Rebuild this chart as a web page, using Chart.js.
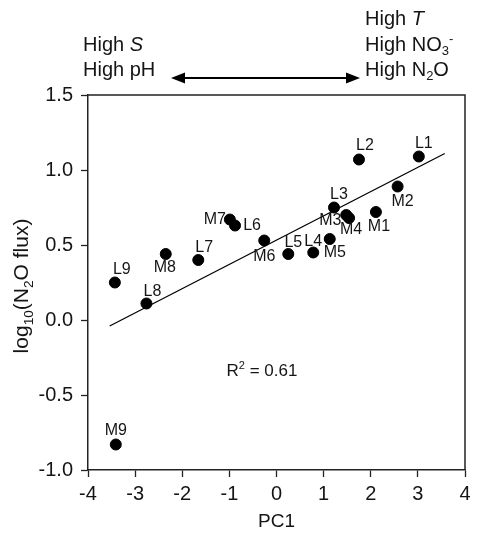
<!DOCTYPE html>
<html>
<head>
<meta charset="utf-8">
<script src="https://cdn.jsdelivr.net/npm/chart.js@4.4.1/dist/chart.umd.min.js"></script>
<style>
  html, body { margin: 0; padding: 0; background: #fff; }
  #wrap { width: 479px; height: 538px; }
</style>
</head>
<body>
<div id="wrap"><canvas id="pcaChart" width="479" height="538"></canvas></div>
<script>
// PC1 vs log10(N2O flux), sites L1-L9 and M1-M9

const siteLabels = ['L1', 'L2', 'L3', 'L4', 'L5', 'L6', 'L7', 'L8', 'L9',
  'M1', 'M2', 'M3', 'M4', 'M5', 'M6', 'M7', 'M8', 'M9'];
const pc1 = [3.02, 1.75, 1.22, 0.78, 0.25, -0.88, -1.66, -2.76, -3.43,
  2.11, 2.57, 1.48, 1.54, 1.13, -0.26, -0.99, -2.35, -3.41];
const logFlux = [1.09, 1.07, 0.75, 0.45, 0.44, 0.63, 0.40, 0.11, 0.25,
  0.72, 0.89, 0.70, 0.68, 0.54, 0.53, 0.67, 0.44, -0.83];

const fitX = [-3.54, 3.57];
const fitY = [-0.04, 1.11];
const rSquared = '0.61';

const xTicks = [-4, -3, -2, -1, 0, 1, 2, 3, 4];
const yTicks = [-1.0, -0.5, 0.0, 0.5, 1.0, 1.5];

const FONT = "'Liberation Sans', Arial, Helvetica, sans-serif";

// where each site label sits relative to its dot (px, centre of text)
const labelOffsets = {
  L1: [5, -13], L2: [6, -14], L3: [5, -13], L4: [0, -11], L5: [5, -11],
  L6: [17, 0], L7: [6, -12], L8: [6, -12], L9: [7, -13],
  M1: [3, 15], M2: [5, 15], M3: [-16, 6], M4: [2, 12], M5: [5, 14],
  M6: [0, 16], M7: [-15, 0], M8: [-1, 14], M9: [0, -14]
};

// text with sub/superscripts and italics
function drawRich(ctx, parts, x, y, size, align) {
  const fontFor = p => {
    const s = p.sub || p.sup ? size * 0.65 : size;
    return (p.italic ? 'italic ' : '') + s + 'px ' + FONT;
  };
  let total = 0;
  parts.forEach(p => { ctx.font = fontFor(p); total += ctx.measureText(p.t).width; });
  let cx = align === 'center' ? x - total / 2 : x;
  ctx.textAlign = 'left';
  ctx.textBaseline = 'alphabetic';
  parts.forEach(p => {
    ctx.font = fontFor(p);
    let dy = 0;
    if (p.sub) dy = size * 0.22;
    if (p.sup) dy = -size * 0.4;
    ctx.fillText(p.t, cx, y + dy);
    cx += ctx.measureText(p.t).width;
  });
}

const extrasPlugin = {
  id: 'extras',
  afterDraw(chart) {
    const { ctx, chartArea: a } = chart;
    ctx.save();
    ctx.fillStyle = '#151515';
    ctx.strokeStyle = '#222';

    // frame top + right
    ctx.lineWidth = 1.5;
    ctx.beginPath();
    ctx.moveTo(a.left, a.top);
    ctx.lineTo(a.right, a.top);
    ctx.lineTo(a.right, a.bottom);
    ctx.stroke();

    // site labels
    const meta = chart.getDatasetMeta(0);
    ctx.font = '16px ' + FONT;
    ctx.textAlign = 'center';
    ctx.textBaseline = 'middle';
    meta.data.forEach((pt, i) => {
      const name = siteLabels[i];
      const off = labelOffsets[name] || [0, -13];
      ctx.fillText(name, pt.x + off[0], pt.y + off[1]);
    });

    // R2
    drawRich(ctx, [{ t: 'R' }, { t: '2', sup: true }, { t: ' = ' + rSquared }],
      262, 376, 17, 'center');

    // axis titles
    drawRich(ctx, [{ t: 'PC1' }], (a.left + a.right) / 2, 527, 19, 'center');
    ctx.save();
    ctx.translate(28, 286);
    ctx.rotate(-Math.PI / 2);
    drawRich(ctx, [{ t: 'log' }, { t: '10', sub: true }, { t: '(N' }, { t: '2', sub: true }, { t: 'O flux)' }],
      0, 0, 21, 'center');
    ctx.restore();

    // gradient annotation above the plot
    drawRich(ctx, [{ t: 'High ' }, { t: 'S', italic: true }], 83, 51, 20, 'left');
    drawRich(ctx, [{ t: 'High pH' }], 83, 76, 20, 'left');
    drawRich(ctx, [{ t: 'High ' }, { t: 'T', italic: true }], 365, 25, 20, 'left');
    drawRich(ctx, [{ t: 'High NO' }, { t: '3', sub: true }, { t: '-', sup: true }], 365, 51, 20, 'left');
    drawRich(ctx, [{ t: 'High N' }, { t: '2', sub: true }, { t: 'O' }], 365, 76, 20, 'left');

    const ay = 78, ax0 = 171, ax1 = 360, head = 14, hw = 5.5;
    ctx.lineWidth = 2;
    ctx.strokeStyle = '#000';
    ctx.fillStyle = '#000';
    ctx.beginPath();
    ctx.moveTo(ax0 + head - 2, ay);
    ctx.lineTo(ax1 - head + 2, ay);
    ctx.stroke();
    ctx.beginPath();
    ctx.moveTo(ax0, ay); ctx.lineTo(ax0 + head, ay - hw); ctx.lineTo(ax0 + head, ay + hw); ctx.closePath();
    ctx.fill();
    ctx.beginPath();
    ctx.moveTo(ax1, ay); ctx.lineTo(ax1 - head, ay - hw); ctx.lineTo(ax1 - head, ay + hw); ctx.closePath();
    ctx.fill();

    ctx.restore();
  }
};

const pointData = pc1.map((x, i) => ({ x, y: logFlux[i] }));
const fitData = fitX.map((x, i) => ({ x, y: fitY[i] }));

new Chart(document.getElementById('pcaChart'), {
  type: 'scatter',
  data: {
    datasets: [{
      label: 'Sites',
      data: pointData,
      backgroundColor: '#000',
      borderColor: '#000',
      pointRadius: 5.5,
      pointHoverRadius: 5.5
    }, {
      type: 'line',
      label: 'Fit',
      data: fitData,
      borderColor: '#000',
      borderWidth: 1.3,
      pointRadius: 0,
      fill: false,
      tension: 0
    }]
  },
  options: {
    responsive: false,
    animation: false,
    devicePixelRatio: 1,
    layout: { padding: { top: 95, right: 14, left: 0, bottom: 0 } },
    plugins: {
      legend: { display: false },
      tooltip: { enabled: false }
    },
    scales: {
      x: {
        type: 'linear',
        min: -4,
        max: 4,
        afterBuildTicks: axis => { axis.ticks = xTicks.map(v => ({ value: v })); },
        afterFit: axis => { axis.height = 68; },
        grid: { drawOnChartArea: false, drawTicks: true, tickLength: 7, tickColor: '#222', tickWidth: 1.3 },
        border: { display: true, color: '#222', width: 1.5 },
        ticks: { color: '#151515', font: { size: 20, family: FONT }, padding: 5, callback: v => String(v) }
      },
      y: {
        type: 'linear',
        min: -1,
        max: 1.5,
        afterBuildTicks: axis => { axis.ticks = yTicks.map(v => ({ value: v })); },
        afterFit: axis => { axis.width = 88; },
        grid: { drawOnChartArea: false, drawTicks: true, tickLength: 7, tickColor: '#222', tickWidth: 1.3 },
        border: { display: true, color: '#222', width: 1.5 },
        ticks: { color: '#151515', font: { size: 20, family: FONT }, padding: 8, callback: v => v.toFixed(1) }
      }
    }
  },
  plugins: [extrasPlugin]
});
</script>
</body>
</html>
